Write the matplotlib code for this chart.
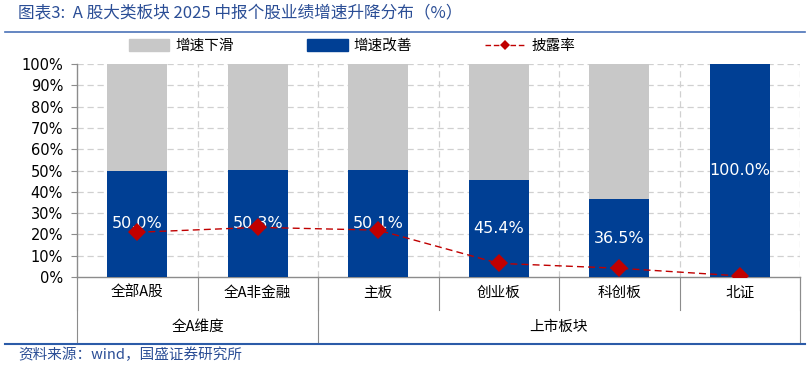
"""
A股大类板块2025中报个股业绩增速升降分布
"""

import numpy as np
import matplotlib
matplotlib.use("Agg")
import matplotlib.pyplot as plt
from matplotlib.lines import Line2D
from matplotlib.patches import Patch

plt.rcParams['font.family'] = ['Noto Sans CJK SC', 'DejaVu Sans']

categories = ['全部A股', '全A非金融', '主板', '创业板', '科创板', '北证']
groups = ['全A维度', '上市板块']
group_sizes = [2, 4]
improve = [50.0, 50.3, 50.1, 45.4, 36.5, 100.0]      # 增速改善
decline = [100 - v for v in improve]                  # 增速下滑
disclose = [21.0, 23.3, 22.0, 6.4, 4.1, 0.5]          # 披露率
yticks = [0, 10, 20, 30, 40, 50, 60, 70, 80, 90, 100]

BLUE = '#003F94'
GRAY = '#C8C8C8'
RED = '#C00000'
TITLE_BLUE = '#2B4E96'
AXIS_GRAY = '#8C8C8C'

fig = plt.figure(figsize=(8.1, 3.68), dpi=100)
ax = fig.add_axes([77 / 810, 91 / 368, 723 / 810, 213 / 368])

x = np.arange(len(categories))
ax.bar(x, improve, width=0.5, color=BLUE, zorder=3)
ax.bar(x, decline, width=0.5, bottom=improve, color=GRAY, zorder=3)
ax.plot(x, disclose, color=RED, linestyle=(0, (5, 3)), linewidth=1,
        marker='D', markersize=9, markeredgewidth=0, zorder=5)

for xi, v in zip(x, improve):
    ax.text(xi, v / 2, '%.1f%%' % v, ha='center', va='center',
            color='white', fontsize=11.5, family='DejaVu Sans', zorder=4)

ax.set_xlim(-0.5, len(categories) - 0.5)
ax.set_ylim(0, 100)
ax.set_yticks(yticks)
ax.set_yticklabels(['%d%%' % t for t in yticks], fontsize=10.5,
                   family='DejaVu Sans')
ax.set_xticks([])
ax.tick_params(axis='y', length=4, color=AXIS_GRAY, pad=6)

# dashed grid
for t in yticks[1:]:
    ax.axhline(t, color='#D0D0D0', linestyle=(0, (5, 3)), linewidth=0.9, zorder=1)
for b in np.arange(0.5, len(categories), 1):
    ax.axvline(b, color='#D0D0D0', linestyle=(0, (5, 3)), linewidth=0.9, zorder=1)

for s in ['top', 'right']:
    ax.spines[s].set_visible(False)
for s in ['left', 'bottom']:
    ax.spines[s].set_color(AXIS_GRAY)
    ax.spines[s].set_linewidth(1)

# multi-level category axis
trans = ax.get_xaxis_transform()
row1, row2 = -0.155, -0.31
for b in np.arange(-0.5, len(categories), 1):
    ax.plot([b, b], [0, row1], transform=trans, color=AXIS_GRAY,
            linewidth=0.8, clip_on=False)
edges = np.concatenate([[0], np.cumsum(group_sizes)]) - 0.5
for b in edges:
    ax.plot([b, b], [0, row2], transform=trans, color=AXIS_GRAY,
            linewidth=0.8, clip_on=False)
for xi, c in zip(x, categories):
    ax.text(xi, -0.075, c, transform=trans, ha='center', va='center', fontsize=10.5)
for i, g in enumerate(groups):
    ax.text((edges[i] + edges[i + 1]) / 2, -0.235, g, transform=trans,
            ha='center', va='center', fontsize=10.5)

# legend
handles = [Patch(color=GRAY), Patch(color=BLUE),
           Line2D([], [], color=RED, linestyle=(0, (4, 2)), linewidth=1,
                  marker='D', markersize=5, markeredgewidth=0)]
fig.legend(handles, ['增速下滑', '增速改善', '披露率'], loc='center',
           bbox_to_anchor=(352 / 810, 1 - 46 / 368), ncol=3, frameon=False,
           fontsize=10.5, columnspacing=5.0, handlelength=2.8, handleheight=0.8,
           handletextpad=0.4)

# title & source
fig.text(18 / 810, 1 - 14 / 368, '图表3:  A 股大类板块 2025 中报个股业绩增速升降分布（%）',
         ha='left', va='center', fontsize=12, color=TITLE_BLUE, style='italic')
fig.add_artist(Line2D([5 / 810, 805 / 810], [1 - 32 / 368] * 2,
                      color='#4A72B8', linewidth=1.2))
fig.add_artist(Line2D([5 / 810, 805 / 810], [1 - 344 / 368] * 2,
                      color='#2B5BA8', linewidth=1.5))
fig.text(18 / 810, 1 - 355 / 368, '资料来源：wind，国盛证券研究所',
         ha='left', va='center', fontsize=10.5, color=TITLE_BLUE, style='italic')

fig.savefig('out.png', dpi=100)
